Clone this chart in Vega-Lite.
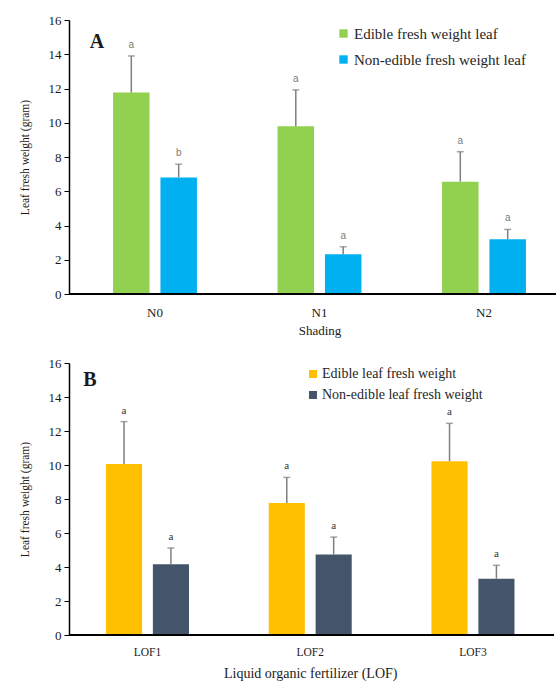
{
  "$schema": "https://vega.github.io/schema/vega-lite/v6.json",
  "background": "white",
  "padding": {"left": 19, "top": 14, "right": 0, "bottom": 4},
  "spacing": 20,
  "columns": 1,
  "resolve": {"scale": {"color": "independent", "x": "independent", "xOffset": "independent", "y": "independent"}, "legend": {"color": "independent"}},
  "config": {
    "view": {"stroke": null},
    "font": "Liberation Serif",
    "axis": {"labelColor": "#1a1a1a", "titleColor": "#1a1a1a", "titleFontWeight": "normal", "labelFont": "Liberation Serif", "titleFont": "Liberation Serif"},
    "legend": {"labelFont": "Liberation Serif", "labelColor": "#262626", "padding": 0, "labelLimit": 400}
  },
  "concat": [
    {
      "width": 489,
      "height": 274,
      "data": {"values": [
        {"group": "N0", "series": "Edible fresh weight leaf", "value": 11.77, "upper": 13.9, "letter": "a"},
        {"group": "N0", "series": "Non-edible fresh weight leaf", "value": 6.81, "upper": 7.58, "letter": "b"},
        {"group": "N1", "series": "Edible fresh weight leaf", "value": 9.79, "upper": 11.92, "letter": "a"},
        {"group": "N1", "series": "Non-edible fresh weight leaf", "value": 2.32, "upper": 2.76, "letter": "a"},
        {"group": "N2", "series": "Edible fresh weight leaf", "value": 6.56, "upper": 8.31, "letter": "a"},
        {"group": "N2", "series": "Non-edible fresh weight leaf", "value": 3.19, "upper": 3.77, "letter": "a"}
      ]},
      "encoding": {
        "x": {
          "field": "group", "type": "nominal", "sort": ["N0", "N1", "N2"],
          "scale": {"type": "band", "range": [3.75, 497.25], "paddingInner": 0.49, "paddingOuter": 0.245},
          "axis": {"title": "Shading", "labelAngle": 0, "ticks": false, "domain": false, "labelFontSize": 13, "titleFontSize": 13, "labelPadding": 12, "titlePadding": 5}
        },
        "xOffset": {"field": "series", "type": "nominal", "sort": ["Edible fresh weight leaf", "Non-edible fresh weight leaf"], "scale": {"type": "band", "paddingInner": 0.23, "paddingOuter": 0}}
      },
      "layer": [
        {
          "mark": {"type": "bar"},
          "encoding": {
            "y": {"field": "value", "type": "quantitative", "scale": {"domain": [0, 16]}, "stack": null,
              "axis": {"title": "Leaf fresh weight  (gram)", "values": [0, 2, 4, 6, 8, 10, 12, 14, 16], "grid": false, "domainColor": "black", "domainWidth": 1.5, "tickColor": "black", "tickSize": 5, "labelFontSize": 13, "labelPadding": 3, "titleFontSize": 11.5, "titlePadding": 18}},
            "color": {"field": "series", "type": "nominal",
              "scale": {"domain": ["Edible fresh weight leaf", "Non-edible fresh weight leaf"], "range": ["#92D050", "#00B0F0"]},
              "legend": {"title": null, "orient": "none", "legendX": 267, "legendY": 6, "labelFontSize": 15, "symbolType": "square", "symbolSize": 70, "symbolStrokeWidth": 0, "rowPadding": 10, "labelOffset": 3}}
          }
        },
        {
          "mark": {"type": "rule", "color": "#7f7f7f", "strokeWidth": 1.5},
          "encoding": {
            "y": {"field": "value", "type": "quantitative",
              "axis": {"title": "Leaf fresh weight  (gram)", "values": [0, 2, 4, 6, 8, 10, 12, 14, 16], "grid": false, "domainColor": "black", "domainWidth": 1.5, "tickColor": "black", "tickSize": 5, "labelFontSize": 13, "labelPadding": 3, "titleFontSize": 11.5, "titlePadding": 18}},
            "y2": {"field": "upper"}
          }
        },
        {
          "mark": {"type": "tick", "orient": "horizontal", "color": "#7f7f7f", "size": 7, "thickness": 1.5},
          "encoding": {
            "y": {"field": "upper", "type": "quantitative",
              "axis": {"title": "Leaf fresh weight  (gram)", "values": [0, 2, 4, 6, 8, 10, 12, 14, 16], "grid": false, "domainColor": "black", "domainWidth": 1.5, "tickColor": "black", "tickSize": 5, "labelFontSize": 13, "labelPadding": 3, "titleFontSize": 11.5, "titlePadding": 18}}
          }
        },
        {
          "mark": {"type": "text", "font": "Liberation Sans", "fontSize": 10, "color": "#7a7a7a", "baseline": "alphabetic", "dy": -8},
          "encoding": {
            "y": {"field": "upper", "type": "quantitative",
              "axis": {"title": "Leaf fresh weight  (gram)", "values": [0, 2, 4, 6, 8, 10, 12, 14, 16], "grid": false, "domainColor": "black", "domainWidth": 1.5, "tickColor": "black", "tickSize": 5, "labelFontSize": 13, "labelPadding": 3, "titleFontSize": 11.5, "titlePadding": 18}},
            "text": {"field": "letter"}
          }
        },
        {
          "data": {"values": [{"group": "N0", "panel": "A"}]},
          "mark": {"type": "text", "fontSize": 20, "fontWeight": "bold", "color": "#1a1a1a", "align": "center", "baseline": "middle", "dx": -16},
          "encoding": {
            "x": {"field": "group", "type": "nominal", "bandPosition": 0},
            "xOffset": null,
            "y": {"datum": 14.7,
              "axis": {"title": "Leaf fresh weight  (gram)", "values": [0, 2, 4, 6, 8, 10, 12, 14, 16], "grid": false, "domainColor": "black", "domainWidth": 1.5, "tickColor": "black", "tickSize": 5, "labelFontSize": 13, "labelPadding": 3, "titleFontSize": 11.5, "titlePadding": 18}},
            "text": {"field": "panel"}
          }
        },
        {
          "data": {"values": [{"base": 0}]},
          "mark": {"type": "rule", "color": "black", "strokeWidth": 2.2},
          "encoding": {
            "x": null,
            "xOffset": null,
            "y": {"field": "base", "type": "quantitative",
              "axis": {"title": "Leaf fresh weight  (gram)", "values": [0, 2, 4, 6, 8, 10, 12, 14, 16], "grid": false, "domainColor": "black", "domainWidth": 1.5, "tickColor": "black", "tickSize": 5, "labelFontSize": 13, "labelPadding": 3, "titleFontSize": 11.5, "titlePadding": 18}}
          }
        }
      ]
    },
    {
      "width": 485,
      "height": 272,
      "data": {"values": [
        {"group": "LOF1", "series": "Edible leaf fresh weight", "value": 10.06, "upper": 12.55, "letter": "a"},
        {"group": "LOF1", "series": "Non-edible  leaf fresh weight", "value": 4.16, "upper": 5.12, "letter": "a"},
        {"group": "LOF2", "series": "Edible leaf fresh weight", "value": 7.76, "upper": 9.27, "letter": "a"},
        {"group": "LOF2", "series": "Non-edible  leaf fresh weight", "value": 4.73, "upper": 5.76, "letter": "a"},
        {"group": "LOF3", "series": "Edible leaf fresh weight", "value": 10.22, "upper": 12.45, "letter": "a"},
        {"group": "LOF3", "series": "Non-edible  leaf fresh weight", "value": 3.31, "upper": 4.1, "letter": "a"}
      ]},
      "encoding": {
        "x": {
          "field": "group", "type": "nominal", "sort": ["LOF1", "LOF2", "LOF3"],
          "scale": {"type": "band", "range": [-2.9, 485.35], "paddingInner": 0.49, "paddingOuter": 0.245},
          "axis": {"title": "Liquid organic fertilizer (LOF)", "labelAngle": 0, "ticks": false, "domain": false, "labelFontSize": 11.5, "titleFontSize": 14, "labelPadding": 11, "titlePadding": 9}
        },
        "xOffset": {"field": "series", "type": "nominal", "sort": ["Edible leaf fresh weight", "Non-edible  leaf fresh weight"], "scale": {"type": "band", "paddingInner": 0.23, "paddingOuter": 0}}
      },
      "layer": [
        {
          "mark": {"type": "bar"},
          "encoding": {
            "y": {"field": "value", "type": "quantitative", "scale": {"domain": [0, 16]}, "stack": null,
              "axis": {"title": "Leaf fresh weight  (gram)", "values": [0, 2, 4, 6, 8, 10, 12, 14, 16], "grid": false, "domainColor": "black", "domainWidth": 1.5, "tickColor": "black", "tickSize": 5, "labelFontSize": 13, "labelPadding": 3, "titleFontSize": 11.5, "titlePadding": 18}},
            "color": {"field": "series", "type": "nominal",
              "scale": {"domain": ["Edible leaf fresh weight", "Non-edible  leaf fresh weight"], "range": ["#FFC000", "#44546A"]},
              "legend": {"title": null, "orient": "none", "legendX": 237, "legendY": 4, "labelFontSize": 14, "symbolType": "square", "symbolSize": 64, "symbolStrokeWidth": 0, "rowPadding": 7, "labelOffset": 2}}
          }
        },
        {
          "mark": {"type": "rule", "color": "#7f7f7f", "strokeWidth": 1.5},
          "encoding": {
            "y": {"field": "value", "type": "quantitative",
              "axis": {"title": "Leaf fresh weight  (gram)", "values": [0, 2, 4, 6, 8, 10, 12, 14, 16], "grid": false, "domainColor": "black", "domainWidth": 1.5, "tickColor": "black", "tickSize": 5, "labelFontSize": 13, "labelPadding": 3, "titleFontSize": 11.5, "titlePadding": 18}},
            "y2": {"field": "upper"}
          }
        },
        {
          "mark": {"type": "tick", "orient": "horizontal", "color": "#7f7f7f", "size": 7, "thickness": 1.5},
          "encoding": {
            "y": {"field": "upper", "type": "quantitative",
              "axis": {"title": "Leaf fresh weight  (gram)", "values": [0, 2, 4, 6, 8, 10, 12, 14, 16], "grid": false, "domainColor": "black", "domainWidth": 1.5, "tickColor": "black", "tickSize": 5, "labelFontSize": 13, "labelPadding": 3, "titleFontSize": 11.5, "titlePadding": 18}}
          }
        },
        {
          "mark": {"type": "text", "fontSize": 11, "color": "#333333", "baseline": "alphabetic", "dy": -8},
          "encoding": {
            "y": {"field": "upper", "type": "quantitative",
              "axis": {"title": "Leaf fresh weight  (gram)", "values": [0, 2, 4, 6, 8, 10, 12, 14, 16], "grid": false, "domainColor": "black", "domainWidth": 1.5, "tickColor": "black", "tickSize": 5, "labelFontSize": 13, "labelPadding": 3, "titleFontSize": 11.5, "titlePadding": 18}},
            "text": {"field": "letter"}
          }
        },
        {
          "data": {"values": [{"group": "LOF1", "panel": "B"}]},
          "mark": {"type": "text", "fontSize": 20, "fontWeight": "bold", "color": "#1a1a1a", "align": "center", "baseline": "middle", "dx": -16},
          "encoding": {
            "x": {"field": "group", "type": "nominal", "bandPosition": 0},
            "xOffset": null,
            "y": {"datum": 15.0,
              "axis": {"title": "Leaf fresh weight  (gram)", "values": [0, 2, 4, 6, 8, 10, 12, 14, 16], "grid": false, "domainColor": "black", "domainWidth": 1.5, "tickColor": "black", "tickSize": 5, "labelFontSize": 13, "labelPadding": 3, "titleFontSize": 11.5, "titlePadding": 18}},
            "text": {"field": "panel"}
          }
        },
        {
          "data": {"values": [{"base": 0}]},
          "mark": {"type": "rule", "color": "black", "strokeWidth": 2.2},
          "encoding": {
            "x": null,
            "xOffset": null,
            "y": {"field": "base", "type": "quantitative",
              "axis": {"title": "Leaf fresh weight  (gram)", "values": [0, 2, 4, 6, 8, 10, 12, 14, 16], "grid": false, "domainColor": "black", "domainWidth": 1.5, "tickColor": "black", "tickSize": 5, "labelFontSize": 13, "labelPadding": 3, "titleFontSize": 11.5, "titlePadding": 18}}
          }
        }
      ]
    }
  ]
}
